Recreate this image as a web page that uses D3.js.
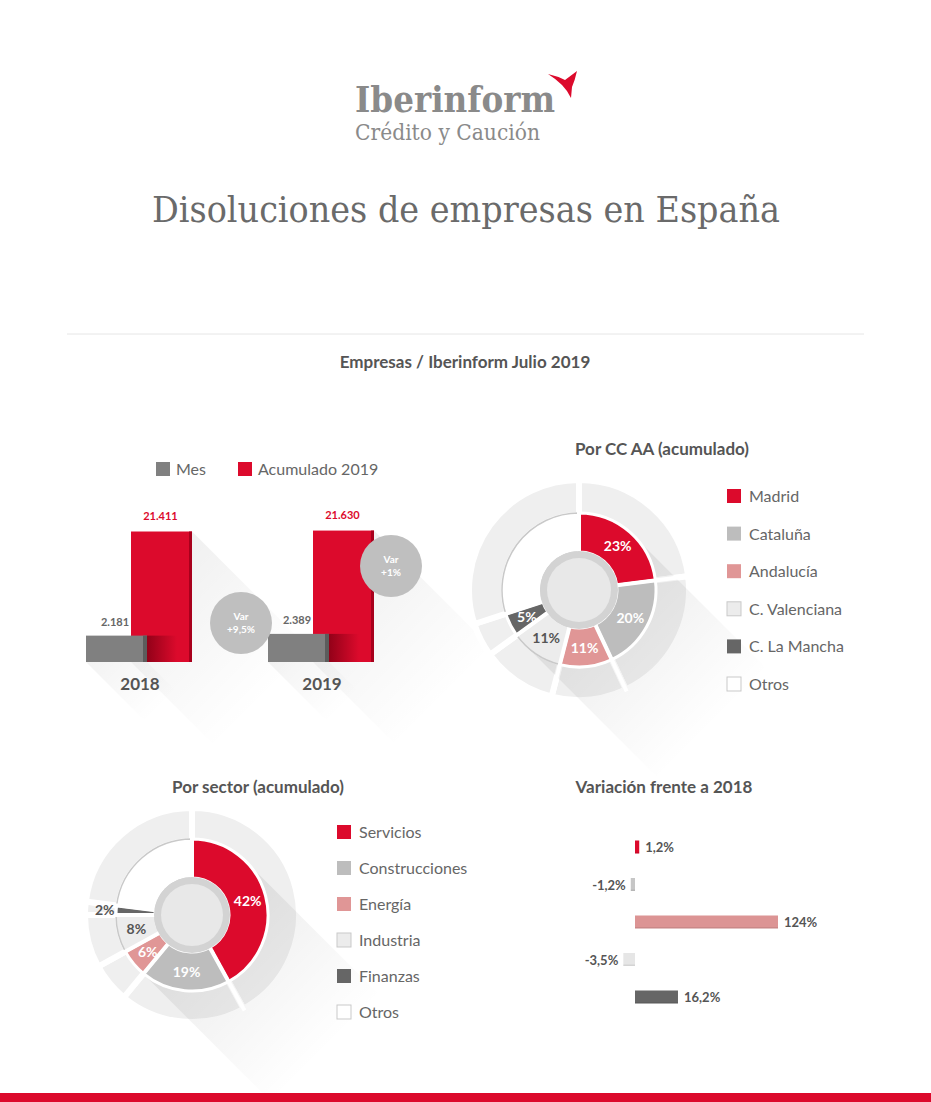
<!DOCTYPE html>
<html><head><meta charset="utf-8">
<script src="https://cdn.jsdelivr.net/npm/d3@7"></script>
<style>html,body{margin:0;padding:0;background:#fff;}svg{display:block;}</style>
</head><body>
<script>
// ---------- DATA ----------
const barYears = ["2018", "2019"];
const mesValues = [2181, 2389];
const acumValues = [21411, 21630];
const mesLabels = ["2.181", "2.389"];
const acumLabels = ["21.411", "21.630"];
const varBubbleLabels = ["+9,5%", "+1%"];
const legendBars = ["Mes", "Acumulado 2019"];

const ccaaNames = ["Madrid", "Cataluña", "Andalucía", "C. Valenciana", "C. La Mancha", "Otros"];
const ccaaValues = [23, 20, 11, 11, 5, 30];

const sectorNames = ["Servicios", "Construcciones", "Energía", "Industria", "Finanzas", "Otros"];
const sectorValues = [42, 19, 6, 8, 2, 23];

const variationNames = ["Servicios", "Construcciones", "Energía", "Industria", "Finanzas"];
const variationValues = [1.2, -1.2, 124, -3.5, 16.2];
const variationLabels = ["1,2%", "-1,2%", "124%", "-3,5%", "16,2%"];

// ---------- STYLE ----------
const RED = "#dc0a2c";
const sliceColors = [RED, "#bdbdbd", "#e09696", "#ececec", "#666666", "#ffffff"];
const sliceStroke = [null, null, null, "#c9c9c9", null, "#c9c9c9"];
const labelColors = ["#fff", "#fff", "#fff", "#555", "#fff", "#555"];
const TXT = "#555";
const SANS = "Lato, 'Open Sans', sans-serif";

const W = 931, H = 1102;
const svg = d3.select("body").append("svg").attr("width", W).attr("height", H);
const defs = svg.append("defs");

function shadowGrad(id, x1, y1, x2, y2, op) {
  const g = defs.append("linearGradient").attr("id", id).attr("gradientUnits", "userSpaceOnUse")
    .attr("x1", x1).attr("y1", y1).attr("x2", x2).attr("y2", y2);
  g.append("stop").attr("offset", 0).attr("stop-color", "#000").attr("stop-opacity", op);
  g.append("stop").attr("offset", 1).attr("stop-color", "#000").attr("stop-opacity", 0);
  return "url(#" + id + ")";
}

// ---------- HEADER ----------
const logo = svg.append("g");
logo.append("text").attr("x", 355).attr("y", 112).text("Iberinform")
  .attr("font-family", "'DejaVu Serif', serif").attr("font-weight", "bold").attr("font-size", 35)
  .attr("fill", "#8a8a8a").attr("textLength", 200).attr("lengthAdjust", "spacingAndGlyphs");
logo.append("text").attr("x", 355).attr("y", 140).text("Crédito y Caución")
  .attr("font-family", "'DejaVu Serif', serif").attr("font-size", 22)
  .attr("fill", "#8a8a8a").attr("textLength", 185).attr("lengthAdjust", "spacingAndGlyphs");
logo.append("path").attr("fill", RED)
  .attr("d", "M548,74 Q557,76 565,80 L577,71 Q575,80 572,87 L571,98 Q567,90 562,85 Q556,79 548,74 Z");

svg.append("text").attr("x", 466).attr("y", 222).attr("text-anchor", "middle")
  .text("Disoluciones de empresas en España")
  .attr("font-family", "'DejaVu Serif', serif").attr("font-size", 35).attr("fill", "#6a6a6a")
  .attr("textLength", 628).attr("lengthAdjust", "spacingAndGlyphs");

svg.append("line").attr("x1", 67).attr("x2", 864).attr("y1", 334).attr("y2", 334)
  .attr("stroke", "#e6e6e6").attr("stroke-width", 1);

svg.append("text").attr("x", 465).attr("y", 368).attr("text-anchor", "middle")
  .text("Empresas / Iberinform Julio 2019")
  .attr("font-family", SANS).attr("font-weight", "bold").attr("font-size", 17).attr("fill", TXT);

// ---------- BAR CHART ----------
const bx = d3.scalePoint().domain(barYears).range([86, 268]);
const by = d3.scalePow().exponent(0.7).domain([0, 22000]).range([662, 529]);
const BW = 61, ROFF = 45;
const bars = svg.append("g");

// legend
const lg = bars.append("g");
[["#808080", 156, legendBars[0]], [RED, 238, legendBars[1]]].forEach(([c, x, t]) => {
  lg.append("rect").attr("x", x).attr("y", 462).attr("width", 14).attr("height", 14).attr("fill", c);
  lg.append("text").attr("x", x + 20).attr("y", 475).text(t)
    .attr("font-family", SANS).attr("font-size", 16).attr("fill", "#666");
});

// shadows
barYears.forEach((yr, i) => {
  const x0 = bx(yr) + ROFF, x1 = x0 + BW, yt = by(acumValues[i]), yb = by(0), L = 150;
  const f = shadowGrad("bs" + i, x1, yt, x1 + L * 0.8, yt + L * 0.8, 0.06);
  bars.append("path").attr("fill", f)
    .attr("d", `M${x1},${yt} L${x1 + L},${yt + L} L${x1 + L},${yb + L} L${x0 + L},${yb + L} L${x0},${yb} Z`);
  const g0 = bx(yr), g1 = g0 + BW;
  const f2 = shadowGrad("gs" + i, g0, yb, g0 + 60, yb + 60, 0.05);
  bars.append("path").attr("fill", f2)
    .attr("d", `M${g0},${yb} L${g1},${yb} L${g1 + 80},${yb + 80} L${g0 + 80},${yb + 80} Z`);
});

barYears.forEach((yr, i) => {
  const x0 = bx(yr) + ROFF, yt = by(acumValues[i]), yb = by(0);
  bars.append("rect").attr("x", x0).attr("y", yt).attr("width", BW).attr("height", yb - yt).attr("fill", RED);
  bars.append("rect").attr("x", x0 + BW - 3).attr("y", yt).attr("width", 3).attr("height", yb - yt).attr("fill", "#a8001c");
  const gt = by(mesValues[i]);
  const sg = defs.append("linearGradient").attr("id", "rs" + i);
  sg.append("stop").attr("offset", 0).attr("stop-color", "#8a0016").attr("stop-opacity", 0.9);
  sg.append("stop").attr("offset", 1).attr("stop-color", "#8a0016").attr("stop-opacity", 0);
  bars.append("rect").attr("x", bx(yr) + BW).attr("y", gt).attr("width", 30).attr("height", yb - gt).attr("fill", "url(#rs" + i + ")");
  bars.append("rect").attr("x", bx(yr)).attr("y", gt).attr("width", BW).attr("height", yb - gt).attr("fill", "#808080");
  bars.append("rect").attr("x", bx(yr) + BW - 4).attr("y", gt).attr("width", 4).attr("height", yb - gt).attr("fill", "#5c5c5c");
  bars.append("text").attr("x", x0 + BW / 2 - 1).attr("y", yt - 12).attr("text-anchor", "middle").text(acumLabels[i])
    .attr("font-family", SANS).attr("font-weight", "bold").attr("font-size", 11).attr("fill", RED);
  bars.append("text").attr("x", bx(yr) + 29).attr("y", gt - 10).attr("text-anchor", "middle").text(mesLabels[i])
    .attr("font-family", SANS).attr("font-weight", "bold").attr("font-size", 11).attr("fill", "#666");
  bars.append("text").attr("x", bx(yr) + 54).attr("y", 690).attr("text-anchor", "middle").text(yr)
    .attr("font-family", SANS).attr("font-weight", "bold").attr("font-size", 17).attr("fill", TXT);
});

// var bubbles
[[241, 623], [391, 566]].forEach(([cx, cy], i) => {
  bars.append("circle").attr("cx", cx).attr("cy", cy).attr("r", 31).attr("fill", "#bfbfbf");
  bars.append("text").attr("x", cx).attr("y", cy - 3).attr("text-anchor", "middle").text("Var")
    .attr("font-family", SANS).attr("font-weight", "bold").attr("font-size", 10).attr("fill", "#fff");
  bars.append("text").attr("x", cx).attr("y", cy + 10).attr("text-anchor", "middle").text(varBubbleLabels[i])
    .attr("font-family", SANS).attr("font-weight", "bold").attr("font-size", 10).attr("fill", "#fff");
});

// ---------- DONUT ----------
function donut(cx, cy, values, opts) {
  const g = svg.append("g").attr("transform", `translate(${cx},${cy})`);
  const pie = d3.pie().sort(null).value(d => d);
  const arcs = pie(values);
  const outer = d3.arc().innerRadius(opts.r1 - 2).outerRadius(opts.R);
  g.selectAll("path.o").data(arcs).join("path").attr("d", outer)
    .attr("fill", "#efefef").attr("stroke", "#fff").attr("stroke-width", 6);
  const r = opts.r1, L = 150, k = r / Math.SQRT2;
  const f = shadowGrad(opts.id + "sh", 0, 0, L * 0.9, L * 0.9, 0.08);
  g.append("path").attr("fill", f)
    .attr("d", `M${k},${-k} L${k + L},${-k + L} L${-k + L},${k + L} L${-k},${k} Z`);
  const inner = d3.arc().innerRadius(opts.r0).outerRadius(opts.r1);
  g.selectAll("path.s").data(arcs).join("path").attr("d", inner)
    .attr("fill", (d, i) => sliceColors[i])
    .attr("stroke", (d, i) => sliceStroke[i] || "#fff")
    .attr("stroke-width", (d, i) => sliceStroke[i] ? 1.5 : 3);
  g.selectAll("path.gap").data(arcs).join("path")
    .attr("d", d => { const a = d.startAngle; return `M${(opts.r0 - 2) * Math.sin(a)},${-(opts.r0 - 2) * Math.cos(a)} L${(opts.R + 2) * Math.sin(a)},${-(opts.R + 2) * Math.cos(a)}`; })
    .attr("stroke", "#fff").attr("stroke-width", 4);
  g.append("circle").attr("r", opts.r0 + 1).attr("fill", "#d3d3d3");
  g.append("circle").attr("r", opts.r0 - 6).attr("fill", "#e8e8e8");
  arcs.forEach((d, i) => {
    if (i === values.length - 1) return;
    const small = d.value < 4;
    const rr = small ? (opts.r1 + opts.R) / 2 - 4 : (opts.r0 + opts.r1) / 2 + 1;
    const a = (d.startAngle + d.endAngle) / 2;
    g.append("text").attr("x", rr * Math.sin(a)).attr("y", -rr * Math.cos(a) + 5)
      .attr("text-anchor", "middle").text(d.value + "%")
      .attr("font-family", SANS).attr("font-weight", "bold").attr("font-size", 14)
      .attr("fill", small ? "#555" : labelColors[i]);
  });
}
function legend(x, y0, step, names) {
  const g = svg.append("g");
  names.forEach((n, i) => {
    const y = y0 + i * step;
    g.append("rect").attr("x", x).attr("y", y - 7).attr("width", 14).attr("height", 14)
      .attr("fill", sliceColors[i]).attr("stroke", sliceStroke[i] || "none").attr("stroke-width", 1);
    g.append("text").attr("x", x + 22).attr("y", y + 6).text(n)
      .attr("font-family", SANS).attr("font-size", 16).attr("fill", "#666");
  });
}

svg.append("text").attr("x", 662).attr("y", 455).attr("text-anchor", "middle").text("Por CC AA (acumulado)")
  .attr("font-family", SANS).attr("font-weight", "bold").attr("font-size", 17).attr("fill", TXT);
donut(579, 590, ccaaValues, { R: 110, r1: 77, r0: 38, id: "d1" });
legend(727, 496, 37.6, ccaaNames);

svg.append("text").attr("x", 258).attr("y", 793).attr("text-anchor", "middle").text("Por sector (acumulado)")
  .attr("font-family", SANS).attr("font-weight", "bold").attr("font-size", 17).attr("fill", TXT);
donut(192, 915, sectorValues, { R: 107, r1: 76, r0: 37, id: "d2" });
legend(337, 832, 36, sectorNames);

// ---------- VARIATION ----------
svg.append("text").attr("x", 664).attr("y", 793).attr("text-anchor", "middle").text("Variación frente a 2018")
  .attr("font-family", SANS).attr("font-weight", "bold").attr("font-size", 17).attr("fill", TXT);
const vx = d3.scaleSymlog().constant(20).domain([0, 124]).range([635, 778]);
const vy = d3.scalePoint().domain(variationNames).range([847, 997]);
const varColors = [RED, "#c6c6c6", "#dc9494", "#e6e6e6", "#666666"];
const vg = svg.append("g");
variationValues.forEach((v, i) => {
  const n = variationNames[i], y = vy(n), x0 = vx(Math.min(0, v)), x1 = vx(Math.max(0, v));
  vg.append("rect").attr("x", x0).attr("y", y - 6.5).attr("width", x1 - x0).attr("height", 13).attr("fill", varColors[i]);
  vg.append("rect").attr("x", x0).attr("y", y + 5).attr("width", x1 - x0).attr("height", 1.5).attr("fill", "#000").attr("opacity", 0.08);
  const neg = v < 0;
  vg.append("text").attr("x", neg ? x0 - 5 : x1 + 6).attr("y", y + 5)
    .attr("text-anchor", neg ? "end" : "start").text(variationLabels[i])
    .attr("font-family", SANS).attr("font-weight", "bold").attr("font-size", 13).attr("fill", TXT);
});

// footer bar
svg.append("rect").attr("x", 0).attr("y", 1093).attr("width", W).attr("height", 9).attr("fill", RED);
</script>
</body></html>
